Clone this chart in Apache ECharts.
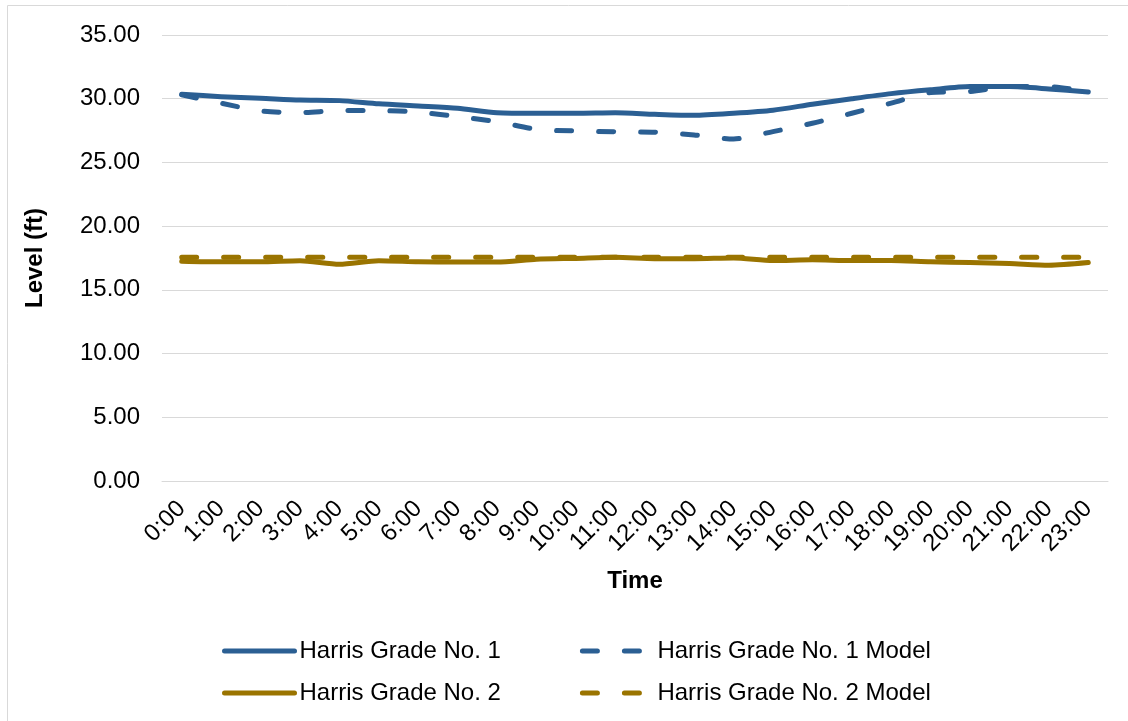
<!DOCTYPE html>
<html>
<head>
<meta charset="utf-8">
<script src="https://cdn.jsdelivr.net/npm/echarts@6/dist/echarts.min.js"></script>
<style>html,body{margin:0;padding:0;background:#fff;}#c{width:1128px;height:721px;}</style>
</head>
<body>
<div id="c"></div>
<script>
const categories = ["0:00","1:00","2:00","3:00","4:00","5:00","6:00","7:00","8:00","9:00","10:00","11:00","12:00","13:00","14:00","15:00","16:00","17:00","18:00","19:00","20:00","21:00","22:00","23:00"];
const harris1 = [30.35, 30.16, 30.04, 29.9, 29.85, 29.6, 29.43, 29.25, 28.9, 28.86, 28.86, 28.9, 28.78, 28.7, 28.86, 29.1, 29.57, 30.0, 30.4, 30.7, 30.95, 30.95, 30.77, 30.53];
const harris1Model = [30.3, 29.65, 29.04, 28.9, 29.07, 29.07, 28.95, 28.6, 28.2, 27.6, 27.47, 27.4, 27.37, 27.16, 26.84, 27.42, 28.07, 28.86, 29.65, 30.48, 30.56, 30.95, 30.95, 30.53];
const harris2 = [17.25, 17.2, 17.2, 17.28, 17.0, 17.28, 17.2, 17.18, 17.18, 17.4, 17.47, 17.55, 17.45, 17.45, 17.5, 17.3, 17.36, 17.3, 17.3, 17.2, 17.15, 17.07, 16.94, 17.15];
const harris2Model = [17.55, 17.55, 17.55, 17.55, 17.55, 17.55, 17.55, 17.55, 17.55, 17.55, 17.55, 17.55, 17.55, 17.55, 17.55, 17.55, 17.55, 17.55, 17.55, 17.55, 17.55, 17.55, 17.55, 17.55];
const yTicks = {min: 0, max: 35, interval: 5};
const names = ["Harris Grade No. 1", "Harris Grade No. 1 Model", "Harris Grade No. 2", "Harris Grade No. 2 Model"];

const BLUE = '#2B5F93';
const GOLD = '#9A7400';
const FONT = 'Liberation Sans, Arial, sans-serif';
const FS = 24;
const chart = echarts.init(document.getElementById('c'), null, {renderer: 'canvas'});

function mk(name, data, color, dashed) {
  return {
    name: name, type: 'line', data: data, symbol: 'none', smooth: 0.25,
    lineStyle: {color: color, width: 5, type: dashed ? [15, 27] : 'solid', cap: 'round', join: 'round'},
    itemStyle: {color: color},
    z: dashed ? 3 : 2
  };
}

const legendCommon = {
  left: 217, itemWidth: 70, itemHeight: 14, itemGap: 79,
  itemStyle: {opacity: 0},
  lineStyle: {width: 5, cap: 'round'},
  textStyle: {fontSize: FS, color: '#000', fontFamily: FONT}
};

chart.setOption({
  animation: false,
  textStyle: {fontFamily: FONT},
  graphic: [{
    type: 'rect', shape: {x: 7.5, y: 5.5, width: 1200, height: 800},
    style: {fill: 'none', stroke: '#D9D9D9', lineWidth: 1}, silent: true, z: -10
  }],
  grid: {left: 162, right: 20, top: 35, bottom: 240, containLabel: false},
  xAxis: {
    type: 'category', data: categories, boundaryGap: true,
    axisLine: {show: true, lineStyle: {color: '#D9D9D9', width: 1}},
    axisTick: {show: false},
    axisLabel: {rotate: 45, fontSize: FS, color: '#000', fontFamily: FONT, margin: 24, interval: 0},
    name: 'Time', nameLocation: 'middle', nameGap: 88,
    nameTextStyle: {fontSize: FS, fontWeight: 'bold', color: '#000', fontFamily: FONT}
  },
  yAxis: {
    type: 'value', min: yTicks.min, max: yTicks.max, interval: yTicks.interval,
    axisLine: {show: false}, axisTick: {show: false},
    splitLine: {lineStyle: {color: '#D9D9D9', width: 1}},
    axisLabel: {formatter: v => v.toFixed(2), fontSize: FS, color: '#000', fontFamily: FONT, margin: 22},
    name: 'Level (ft)', nameLocation: 'middle', nameGap: 115, nameRotate: 90,
    nameTextStyle: {fontSize: FS, fontWeight: 'bold', color: '#000', fontFamily: FONT}
  },
  legend: [
    Object.assign({data: [names[0], names[1]], top: 634}, legendCommon),
    Object.assign({data: [names[2], names[3]], top: 676}, legendCommon)
  ],
  series: [
    mk(names[0], harris1, BLUE, false),
    mk(names[1], harris1Model, BLUE, true),
    mk(names[2], harris2, GOLD, false),
    mk(names[3], harris2Model, GOLD, true)
  ]
});
</script>
</body>
</html>
